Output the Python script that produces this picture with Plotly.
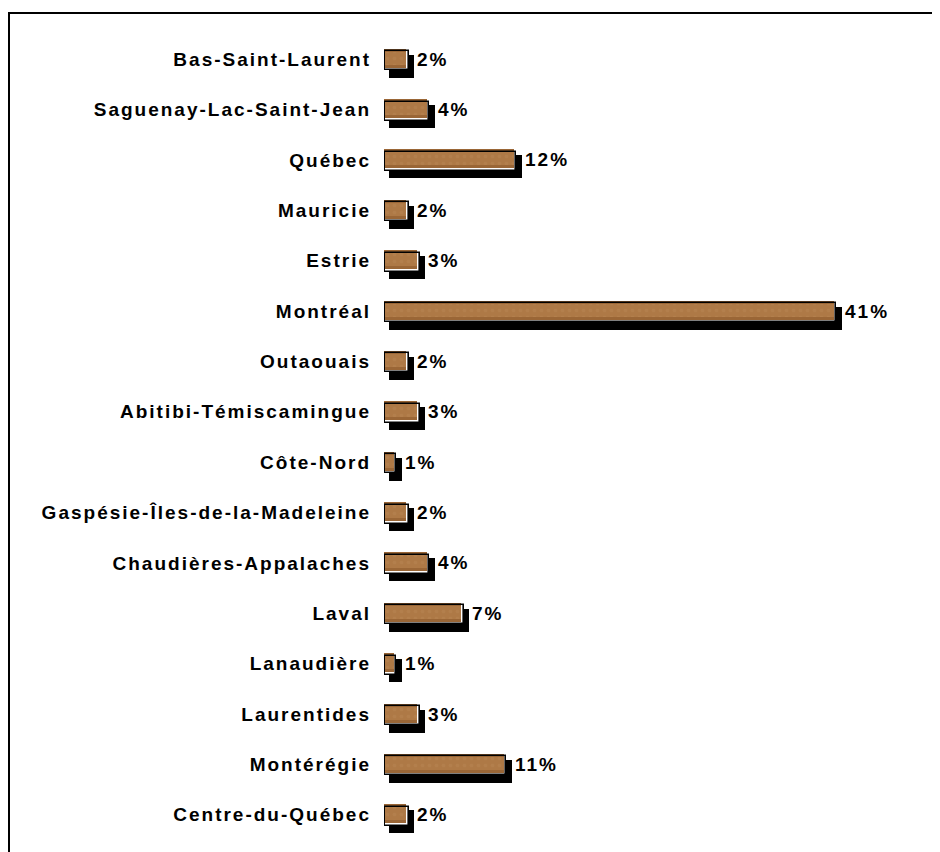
import plotly.graph_objects as go

# ---- data ----
regions = [
    "Bas-Saint-Laurent", "Saguenay-Lac-Saint-Jean", "Québec", "Mauricie", "Estrie",
    "Montréal", "Outaouais", "Abitibi-Témiscamingue", "Côte-Nord",
    "Gaspésie-Îles-de-la-Madeleine", "Chaudières-Appalaches", "Laval", "Lanaudière",
    "Laurentides", "Montérégie", "Centre-du-Québec",
]
shares = [2.0, 3.9, 11.8, 2.0, 3.0, 40.9, 2.0, 3.0, 0.9, 2.0, 3.9, 7.0, 0.9, 3.0, 10.9, 2.0]
share_labels = ["2%", "4%", "12%", "2%", "3%", "41%", "2%", "3%", "1%", "2%",
                "4%", "7%", "1%", "3%", "11%", "2%"]

# ---- geometry / style ----
W, H = 940, 852
BODY = 8  # default page margin of the html body
ML, MR, MT = 384 - BODY, 28, 34 - BODY
PX_PER_UNIT = 11.0
plot_w = W - ML - MR
n = len(regions)
row_px = 50.375
plot_h = row_px * n
MB = H - MT - plot_h
xmax = plot_w / PX_PER_UNIT


def dx(px):
    return px / PX_PER_UNIT


def dy(px):
    return px / row_px


pos = list(range(n))
FONT = "Liberation Sans, Arial, sans-serif"
LS = "2px"
FS = 19

fig = go.Figure()

# drop shadow
fig.add_trace(go.Bar(
    orientation="h", y=[p + dy(7) for p in pos], x=[v + dx(3) for v in shares],
    base=dx(5), width=dy(23), marker=dict(color="black", line=dict(width=0)),
    hoverinfo="skip", showlegend=False))
# white backing
fig.add_trace(go.Bar(
    orientation="h", y=[p + dy(1.5) for p in pos], x=[v + dx(1.5) for v in shares],
    base=dx(1), width=dy(19), marker=dict(color="white", line=dict(width=0)),
    hoverinfo="skip", showlegend=False))
# brown bar (slightly darker edges)
fig.add_trace(go.Bar(
    orientation="h", y=[p + dy(-1) for p in pos], x=shares, base=0, width=dy(19),
    marker=dict(color="#9a6636", line=dict(width=0)),
    hoverinfo="skip", showlegend=False))
# lighter mottled centre band
fig.add_trace(go.Bar(
    orientation="h", y=[p + dy(-1) for p in pos], x=shares, base=0, width=dy(13),
    marker=dict(color="#ae7946", line=dict(width=0),
                pattern=dict(shape=".", fgcolor="#c2905e", bgcolor="#ae7946",
                             size=7, solidity=0.2, fgopacity=0.3)),
    hoverinfo="skip", showlegend=False))
# black outline on top
fig.add_trace(go.Bar(
    orientation="h", y=[p + dy(1.5) for p in pos], x=[v + dx(1.5) for v in shares],
    base=dx(1), width=dy(19),
    marker=dict(color="rgba(0,0,0,0)", line=dict(width=1.6, color="black")),
    hoverinfo="skip", showlegend=False))

for p, v, lab in zip(pos, shares, share_labels):
    fig.add_annotation(
        x=v, y=p, xref="x", yref="y", xanchor="left", yanchor="middle",
        xshift=9, showarrow=False,
        text=f'<span style="letter-spacing:{LS}">{lab}</span>',
        font=dict(family=FONT, size=FS, color="black", weight="bold"))

# outer frame
fig.add_shape(
    type="rect", xref="paper", yref="paper",
    x0=(9 - BODY - ML) / plot_w, x1=(W + 20 - ML) / plot_w,
    y0=(MT + plot_h - (H + 20)) / plot_h, y1=(MT + plot_h - (13 - BODY)) / plot_h,
    line=dict(color="black", width=2), fillcolor="rgba(0,0,0,0)", layer="above")

fig.update_layout(
    width=W, height=H,
    margin=dict(l=ML, r=MR, t=MT, b=MB, pad=0),
    paper_bgcolor="white", plot_bgcolor="white",
    barmode="overlay", bargap=0, showlegend=False,
    xaxis=dict(range=[0, xmax], visible=False, fixedrange=True),
    yaxis=dict(
        range=[n - 0.5, -0.5], tickmode="array", tickvals=pos,
        ticktext=[f'<span style="letter-spacing:{LS}">{r}</span>' for r in regions],
        tickfont=dict(family=FONT, size=FS, color="black", weight="bold"),
        showgrid=False, zeroline=False, showline=False, ticks="",
        ticklabelstandoff=12, fixedrange=True),
)

fig.write_html("out.html")
